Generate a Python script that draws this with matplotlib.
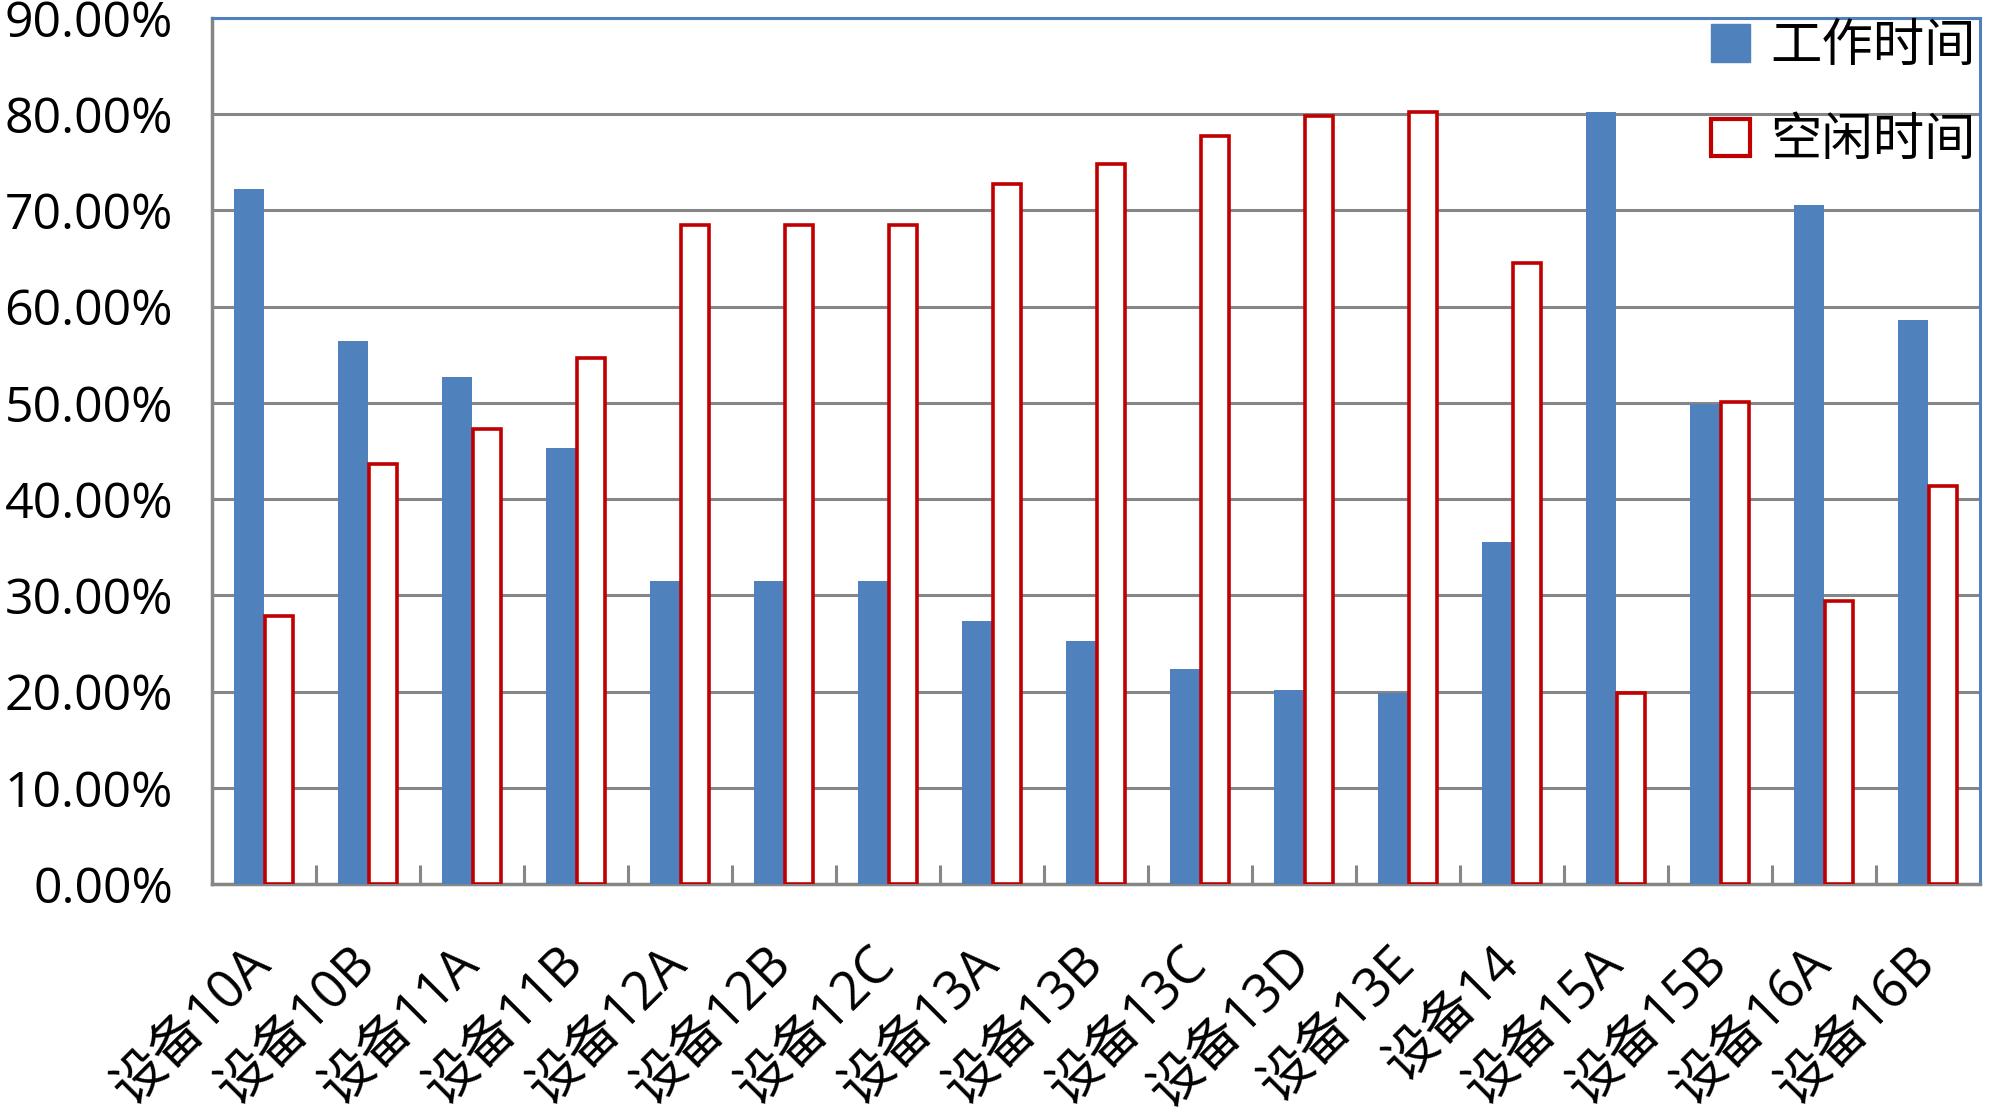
import numpy as np
import matplotlib
matplotlib.use('Agg')
import matplotlib.pyplot as plt
from matplotlib.patches import Patch
from matplotlib.ticker import FuncFormatter, FixedLocator

plt.rcParams['font.family'] = ['Open Sans', 'Noto Sans CJK SC', 'DejaVu Sans']

devices = ['设备10A', '设备10B', '设备11A', '设备11B', '设备12A', '设备12B', '设备12C',
           '设备13A', '设备13B', '设备13C', '设备13D', '设备13E', '设备14',
           '设备15A', '设备15B', '设备16A', '设备16B']
work_time = [72.2, 56.4, 52.7, 45.3, 31.5, 31.5, 31.5, 27.3, 25.2, 22.3, 20.2, 19.8,
             35.5, 80.2, 49.9, 70.6, 58.6]
idle_time = [27.8, 43.6, 47.3, 54.7, 68.5, 68.5, 68.5, 72.7, 74.8, 77.7, 79.8, 80.2,
             64.5, 19.8, 50.1, 29.4, 41.4]
y_ticks = [0, 10, 20, 30, 40, 50, 60, 70, 80, 90]

blue = '#4F81BD'
red = '#C00000'
grey = '#868686'

fig = plt.figure(figsize=(19.99, 11.17), dpi=100)
ax = fig.add_axes([0.106, 0.2086, 0.8845, 0.7754])

x = np.arange(len(devices))
w = 0.29
ax.bar(x - w / 2, work_time, width=w, color=blue, zorder=3)
ax.bar(x + w / 2, idle_time, width=w - 0.02, color='white', edgecolor=red,
       linewidth=2.6, zorder=3)

ax.set_xlim(-0.5, len(devices) - 0.5)
ax.set_ylim(0, 90)
ax.set_yticks(y_ticks)
ax.yaxis.set_major_formatter(FuncFormatter(lambda v, p: '%.2f%%' % v))
ax.yaxis.grid(True, color=grey, linewidth=2.2, zorder=0)
ax.tick_params(axis='y', length=0, pad=28, labelsize=36)

ax.set_xticks(x)
ax.set_xticklabels(devices, rotation=45, ha='right', va='center',
                   rotation_mode='anchor', fontsize=38)
ax.tick_params(axis='x', which='major', length=0, pad=52)
ax.xaxis.set_minor_locator(FixedLocator(np.arange(0.5, len(devices) - 0.5, 1)))
ax.tick_params(axis='x', which='minor', direction='in', length=14, width=2.2, color=grey)

for s in ['left', 'bottom']:
    ax.spines[s].set_color(grey)
    ax.spines[s].set_linewidth(2.5)
for s in ['top', 'right']:
    ax.spines[s].set_color(blue)
    ax.spines[s].set_linewidth(2.2)

handles = [Patch(facecolor=blue, edgecolor=blue),
           Patch(facecolor='white', edgecolor=red, linewidth=3)]
fig.legend(handles, ['工作时间', '空闲时间'], loc='upper left',
           bbox_to_anchor=(0.838, 1.015), frameon=False,
           prop={'family': ['Noto Sans CJK SC'], 'size': 37},
           handlelength=0.75, handleheight=0.75, handletextpad=0.4,
           labelspacing=0.8, borderaxespad=0.3)

fig.savefig('out.png', dpi=100)
